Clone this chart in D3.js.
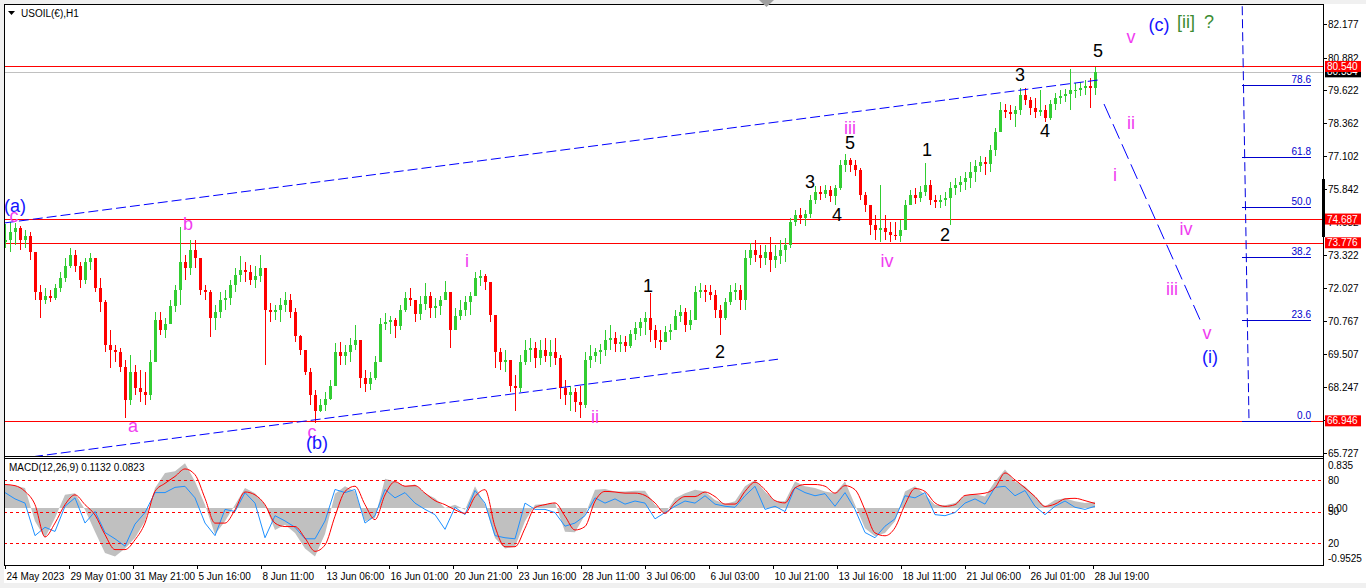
<!DOCTYPE html>
<html>
<head>
<meta charset="utf-8">
<script src="https://cdn.jsdelivr.net/npm/d3@7"></script>
<style>
  html, body { margin: 0; padding: 0; background: #f0f0f0; }
  svg { display: block; font-family: "Liberation Sans", Arial, sans-serif; }
</style>
</head>
<body>
<svg id="chart" width="1366" height="588"></svg>
<script>
// ---- price data (H1 candles, sampled every 5 hours) ----
const firstOpen = 73.80;
const highs = [
  74.49, 74.57, 74.53, 74.41, 74.26, 74.18, 73.42, 72.15, 72.03, 71.96,
  72.19, 72.65, 73.19, 73.57, 73.49, 73.03, 73.19, 73.38, 73.03, 72.42,
  71.57, 70.42, 69.84, 69.73, 69.27, 69.46, 69.07, 68.88, 68.80, 69.65,
  71.11, 71.11, 70.88, 71.57, 72.15, 74.38, 73.30, 73.88, 73.88, 73.11,
  72.15, 71.96, 71.38, 71.88, 71.96, 72.34, 72.80, 73.26, 73.03, 72.92,
  72.88, 73.30, 72.72, 71.46, 71.38, 71.65, 71.88, 71.80, 71.26, 70.23,
  69.65, 68.96, 68.11, 67.80, 68.04, 68.50, 69.92, 69.96, 69.84, 70.11,
  70.61, 70.03, 68.88, 68.80, 69.42, 70.88, 71.07, 70.96, 70.88, 71.38,
  71.88, 72.03, 71.57, 71.72, 72.22, 71.88, 71.65, 71.72, 72.30, 71.57,
  71.26, 71.57, 71.72, 71.88, 72.65, 72.72, 72.57, 72.15, 70.88, 69.73,
  69.65, 69.19, 68.69, 69.46, 70.03, 70.11, 69.96, 70.03, 70.11, 70.03,
  70.11, 69.46, 68.50, 68.30, 68.19, 68.30, 69.57, 69.84, 69.73, 69.88,
  70.42, 70.61, 70.34, 70.23, 70.19, 70.42, 70.73, 70.88, 71.11, 71.84,
  70.61, 70.42, 70.57, 70.65, 71.19, 71.38, 71.26, 71.19, 72.11, 72.22,
  72.15, 72.15, 71.96, 71.38, 71.65, 72.15, 72.22, 72.15, 73.49, 73.76,
  73.88, 73.68, 73.68, 73.99, 73.68, 73.88, 73.95, 74.72, 75.03, 75.11,
  75.03, 75.61, 75.95, 75.95, 75.99, 75.95, 75.99, 76.95, 77.18, 77.03,
  76.95, 76.64, 75.72, 75.22, 74.84, 75.99, 74.84, 74.57, 74.57, 74.65,
  75.41, 75.80, 75.88, 75.95, 76.84, 76.18, 75.61, 75.61, 75.72, 76.11,
  76.26, 76.34, 76.49, 76.87, 76.95, 77.11, 77.07, 77.53, 78.18, 79.18,
  79.10, 79.07, 79.03, 79.72, 79.72, 79.37, 79.33, 79.64, 79.07, 79.26,
  79.53, 79.64, 79.68, 80.45, 79.91, 79.95, 80.03, 80.10, 80.52
];
const lows = [
  73.57, 73.42, 73.69, 73.49, 73.57, 73.11, 71.57, 70.88, 71.42, 71.49,
  71.57, 71.88, 72.26, 72.80, 72.65, 72.03, 72.19, 72.72, 71.88, 71.11,
  69.57, 68.96, 69.19, 68.80, 67.04, 67.54, 67.92, 67.65, 67.54, 67.73,
  69.84, 70.23, 70.11, 70.73, 71.11, 71.38, 72.34, 72.53, 72.80, 71.76,
  71.57, 70.15, 70.42, 70.88, 71.19, 71.38, 71.88, 72.26, 72.26, 72.15,
  72.03, 72.26, 69.07, 70.73, 70.80, 70.73, 71.11, 70.88, 69.96, 69.46,
  68.69, 67.54, 66.88, 67.27, 67.34, 67.73, 68.57, 69.07, 69.07, 69.19,
  69.65, 68.19, 68.04, 68.11, 68.50, 69.19, 70.42, 70.26, 70.11, 70.42,
  71.11, 71.34, 70.73, 70.80, 71.19, 70.88, 70.88, 71.00, 71.57, 69.73,
  70.49, 70.80, 70.96, 71.00, 71.88, 72.11, 71.96, 70.73, 68.96, 68.88,
  68.80, 68.04, 67.34, 68.04, 69.07, 69.19, 68.96, 69.07, 69.19, 69.03,
  69.07, 67.80, 67.54, 67.34, 67.27, 67.04, 67.42, 68.96, 69.19, 69.11,
  69.42, 69.65, 69.57, 69.57, 69.57, 69.73, 70.03, 70.19, 70.23, 69.96,
  69.73, 69.65, 69.96, 70.03, 70.42, 70.73, 70.34, 70.42, 70.88, 71.65,
  71.49, 71.57, 70.88, 70.23, 70.80, 71.38, 71.57, 71.19, 71.19, 72.92,
  73.03, 72.80, 72.92, 72.65, 72.80, 72.95, 73.03, 73.57, 74.41, 74.49,
  74.41, 74.72, 75.26, 75.41, 75.49, 75.34, 75.22, 75.80, 76.49, 76.49,
  76.34, 75.41, 74.95, 74.07, 73.88, 73.80, 73.88, 73.80, 73.88, 73.80,
  74.26, 75.22, 75.26, 75.34, 75.57, 75.22, 75.11, 75.11, 75.18, 74.45,
  75.61, 75.72, 75.80, 75.88, 76.11, 76.49, 76.37, 76.49, 77.11, 78.10,
  78.57, 78.49, 78.22, 78.68, 79.07, 78.68, 78.57, 78.64, 78.41, 78.49,
  78.87, 79.10, 79.18, 78.87, 79.33, 79.41, 79.45, 78.95, 79.45
];
const closes = [
  73.88, 74.18, 74.34, 73.88, 74.03, 73.42, 71.88, 71.57, 71.72, 71.65,
  72.03, 72.42, 72.88, 73.30, 72.88, 72.34, 73.03, 73.19, 72.03, 71.49,
  69.84, 69.65, 69.57, 69.03, 67.73, 68.80, 68.19, 68.04, 67.92, 69.19,
  70.80, 70.42, 70.65, 71.34, 71.96, 73.03, 72.80, 73.49, 73.19, 71.96,
  71.88, 70.88, 71.11, 71.57, 71.65, 72.15, 72.53, 72.72, 72.65, 72.34,
  72.49, 72.80, 71.19, 71.11, 71.19, 71.38, 71.57, 71.11, 70.19, 69.65,
  68.80, 67.92, 67.34, 67.54, 67.80, 68.30, 69.57, 69.42, 69.57, 69.84,
  70.03, 68.57, 68.34, 68.57, 69.19, 70.65, 70.73, 70.80, 70.57, 71.19,
  71.65, 71.57, 71.03, 71.42, 71.72, 71.26, 71.34, 71.57, 71.88, 70.42,
  70.96, 71.19, 71.49, 71.72, 72.42, 72.49, 72.26, 71.00, 69.57, 69.19,
  69.27, 68.30, 68.19, 69.19, 69.65, 69.73, 69.34, 69.65, 69.42, 69.57,
  69.34, 68.19, 67.92, 68.04, 67.65, 67.54, 69.27, 69.42, 69.57, 69.65,
  70.03, 70.11, 69.88, 69.96, 69.80, 70.26, 70.49, 70.73, 70.88, 70.42,
  70.03, 69.96, 70.34, 70.42, 70.96, 71.11, 70.61, 70.80, 71.88, 71.96,
  71.88, 71.76, 71.19, 70.88, 71.49, 71.88, 71.96, 71.57, 73.19, 73.49,
  73.30, 73.19, 73.42, 73.11, 73.26, 73.49, 73.68, 74.57, 74.84, 74.72,
  74.88, 75.41, 75.72, 75.65, 75.80, 75.57, 75.88, 76.76, 76.95, 76.76,
  76.57, 75.61, 75.22, 74.45, 74.26, 74.34, 74.18, 74.07, 74.03, 74.26,
  75.22, 75.61, 75.49, 75.72, 75.99, 75.41, 75.34, 75.41, 75.49, 75.88,
  75.99, 76.11, 76.26, 76.49, 76.72, 76.87, 76.80, 77.34, 78.03, 78.87,
  78.80, 78.72, 78.87, 79.45, 79.26, 78.95, 78.80, 78.87, 78.57, 79.10,
  79.33, 79.41, 79.49, 79.64, 79.64, 79.72, 79.80, 79.72, 80.33
];
const candleStep = 5; // hours between stored candles

// ---- MACD window data (every 10 hours) ----
const macdMain = [
  0.41, 0.39, 0.35, -0.23, -0.52, -0.17, 0.23, 0.26, -0.03, -0.41,
  -0.78, -0.84, -0.70, -0.52, -0.23, 0.35, 0.61, 0.64, 0.78, 0.46,
  0.06, -0.46, -0.23, 0.06, 0.35, 0.26, 0.06, -0.38, -0.29, -0.43,
  -0.70, -0.84, -0.45, 0.25, 0.38, 0.29, -0.23, -0.17, 0.51, 0.46,
  0.38, 0.41, 0.26, 0.17, 0.00, 0.06, -0.03, 0.38, 0.06, -0.52,
  -0.70, -0.67, -0.23, 0.06, 0.07, 0.09, -0.41, -0.42, -0.12, 0.32,
  0.33, 0.29, 0.29, 0.30, 0.30, 0.06, -0.10, 0.17, 0.26, 0.32,
  0.29, 0.14, 0.07, 0.12, 0.38, 0.49, 0.29, 0.12, 0.12, 0.46,
  0.38, 0.35, 0.29, 0.26, 0.46, 0.06, -0.35, -0.49, -0.43, -0.23,
  0.29, 0.38, 0.23, 0.06, 0.05, 0.09, 0.22, 0.24, 0.20, 0.46,
  0.67, 0.46, 0.38, 0.20, 0.03, 0.14, 0.17, 0.12, 0.09, 0.11
];
const macdSignal = [
  0.41, 0.39, 0.29, 0.06, -0.50, -0.26, 0.06, 0.23, 0.06, -0.12,
  -0.46, -0.72, -0.72, -0.55, -0.26, 0.29, 0.43, 0.55, 0.68, 0.58,
  0.17, -0.26, -0.26, -0.03, 0.28, 0.23, 0.06, -0.26, -0.32, -0.32,
  -0.52, -0.75, -0.64, -0.14, 0.29, 0.38, 0.06, -0.20, 0.23, 0.46,
  0.38, 0.39, 0.26, 0.13, 0.06, -0.03, -0.09, 0.20, 0.32, -0.32,
  -0.67, -0.67, -0.35, 0.01, 0.06, 0.09, -0.14, -0.38, -0.32, 0.12,
  0.29, 0.28, 0.26, 0.26, 0.22, 0.09, -0.09, 0.09, 0.20, 0.20,
  0.28, 0.20, 0.07, 0.07, 0.29, 0.45, 0.32, 0.13, 0.09, 0.35,
  0.41, 0.41, 0.38, 0.26, 0.39, 0.32, -0.03, -0.43, -0.48, -0.34,
  0.06, 0.34, 0.29, 0.09, 0.03, 0.06, 0.22, 0.24, 0.26, 0.35,
  0.61, 0.49, 0.35, 0.20, 0.03, 0.07, 0.16, 0.17, 0.13, 0.08
];
const oscLine = [
  68, 62, 58, 27, 35, 31, 55, 63, 39, 50,
  30, 24, 17, 38, 49, 68, 68, 73, 74, 63,
  39, 27, 52, 50, 68, 58, 25, 46, 41, 35,
  24, 24, 41, 71, 68, 71, 39, 46, 71, 63,
  68, 58, 52, 47, 33, 54, 47, 70, 58, 27,
  25, 24, 58, 52, 52, 49, 36, 39, 46, 63,
  58, 62, 57, 60, 58, 43, 49, 55, 60, 58,
  65, 57, 55, 54, 65, 74, 52, 55, 50, 73,
  68, 65, 67, 55, 68, 52, 30, 25, 36, 43,
  65, 63, 68, 47, 46, 49, 58, 62, 57, 73,
  74, 65, 70, 55, 47, 55, 60, 54, 52, 55
];
const macdStep = 10;
const oscLevels = [80, 50, 20];

// ---- axes ----
const priceTicks = [82.177, 80.882, 79.622, 78.362, 77.102, 75.842, 74.582,
  73.322, 72.027, 70.767, 69.507, 68.247, 66.987, 65.727];
const timeLabels = ["24 May 2023", "29 May 01:00", "31 May 21:00", "5 Jun 16:00",
  "8 Jun 11:00", "13 Jun 06:00", "16 Jun 01:00", "20 Jun 21:00", "23 Jun 16:00",
  "28 Jun 11:00", "3 Jul 06:00", "6 Jul 03:00", "10 Jul 21:00", "13 Jul 16:00",
  "18 Jul 11:00", "21 Jul 06:00", "26 Jul 01:00", "28 Jul 19:00"];
const timeLabelHours = [0, 64, 128, 192, 256, 320, 384, 448, 512, 576, 640,
  704, 768, 832, 896, 960, 1024, 1088];

// ---- horizontal levels, fib, trend lines ----
const redLevels = [80.540, 74.687, 73.776, 66.946];
const lastPrice = 80.334;
const fibRatios = [0.0, 23.6, 38.2, 50.0, 61.8, 78.6];
const fibLow = [1244, 66.946];
const fibHigh = [1237, 83.35];
const fibEndHour = 1306;
const upperChannel = [[0, 74.54], [1093, 80.02]];
const lowerChannel = [[28, 65.57], [773, 69.31]];
const projection = [[1099, 79.10], [1196, 70.74]];

// ---- wave labels [text, hour, price, colour] ----
const MAG = "#f03cf0", BLU = "#1414ff", BLK = "#000000", GRN = "#3c8c32";
const waveLabels = [
  ["(a)", 10, 75.19, BLU], ["c", 9, 74.81, MAG], ["b", 183, 74.50, MAG],
  ["a", 128, 66.76, MAG], ["c", 307, 66.53, MAG], ["(b)", 312, 66.11, BLU],
  ["i", 462, 73.08, MAG], ["ii", 590, 67.10, MAG], ["1", 643, 72.12, BLK],
  ["2", 715, 69.59, BLK], ["3", 805, 76.11, BLK], ["4", 832, 74.85, BLK],
  ["iii", 845, 78.18, MAG], ["5", 845, 77.61, BLK], ["iv", 882, 73.08, MAG],
  ["1", 922, 77.34, BLK], ["2", 940, 74.08, BLK], ["3", 1015, 80.21, BLK],
  ["4", 1040, 78.07, BLK], ["5", 1093, 81.13, BLK], ["v", 1126, 81.67, MAG],
  ["(c)", 1154, 82.13, BLU], ["[ii]", 1181, 82.25, GRN], ["?", 1204, 82.25, GRN],
  ["ii", 1126, 78.37, MAG], ["i", 1110, 76.38, MAG], ["iv", 1181, 74.31, MAG],
  ["iii", 1167, 72.01, MAG], ["v", 1202, 70.32, MAG], ["(i)", 1205, 69.40, BLU]
];

// ---- layout ----
const W = 1366, H = 588;
const left = 4, right = 1323, mainTop = 4, mainBottom = 456, macdTop = 459, macdBottom = 565;

const x = d3.scaleLinear().domain([0, 1090]).range([5, 1095]);
const y = d3.scaleLinear().domain([65.727, 82.177]).range([452.6, 23.8]);
const yMacd = d3.scaleLinear().domain([-0.9525, 0.835]).range([563, 460]);
const yOsc = d3.scaleLinear().domain([0, 100]).range([564, 459]);

const svg = d3.select("#chart");
svg.append("rect").attr("width", W).attr("height", H).attr("fill", "#f0f0f0");
svg.append("rect").attr("x", left).attr("y", mainTop).attr("width", W - left).attr("height", 579).attr("fill", "#fff");

const defs = svg.append("defs");
defs.append("clipPath").attr("id", "clipMain").append("rect")
  .attr("x", left + 1).attr("y", mainTop + 1).attr("width", right - left - 1).attr("height", mainBottom - mainTop - 1);
defs.append("clipPath").attr("id", "clipMacd").append("rect")
  .attr("x", left + 1).attr("y", macdTop).attr("width", right - left - 1).attr("height", macdBottom - macdTop);

const main = svg.append("g").attr("clip-path", "url(#clipMain)");

// horizontal price levels
const levels = main.append("g").attr("shape-rendering", "crispEdges");
levels.append("line").attr("x1", left).attr("x2", right)
  .attr("y1", Math.round(y(lastPrice)) + 0.5).attr("y2", Math.round(y(lastPrice)) + 0.5)
  .attr("stroke", "#c0c0c0");
redLevels.forEach(p => {
  levels.append("line").attr("x1", left).attr("x2", right)
    .attr("y1", Math.round(y(p)) + 0.5).attr("y2", Math.round(y(p)) + 0.5)
    .attr("stroke", "#ff0000");
});

// candles
const candles = main.append("g").attr("shape-rendering", "crispEdges");
closes.forEach((c, i) => {
  const o = i === 0 ? firstOpen : closes[i - 1];
  const col = c >= o ? "#32cd32" : "#ff0000";
  const cx = Math.round(x(i * candleStep));
  candles.append("rect").attr("x", cx).attr("width", 1)
    .attr("y", y(highs[i])).attr("height", Math.max(1, y(lows[i]) - y(highs[i])))
    .attr("fill", col);
  const top = y(Math.max(o, c)), bot = y(Math.min(o, c));
  candles.append("rect").attr("x", cx - 1).attr("width", 3)
    .attr("y", top).attr("height", Math.max(1, bot - top))
    .attr("fill", col);
});

// trend lines
const line = d3.line().x(d => x(d[0])).y(d => y(d[1]));
[upperChannel, lowerChannel].forEach(pts => {
  main.append("path").attr("d", line(pts)).attr("fill", "none")
    .attr("stroke", "#0000ff").attr("stroke-width", 1).attr("stroke-dasharray", "10,4");
});
main.append("path").attr("d", line(projection)).attr("fill", "none")
  .attr("stroke", "#0000ff").attr("stroke-width", 1).attr("stroke-dasharray", "16,6");

// fibonacci
main.append("path").attr("d", line([fibHigh, fibLow])).attr("fill", "none")
  .attr("stroke", "#0000e0").attr("stroke-dasharray", "9,4");
fibRatios.forEach(r => {
  const p = fibLow[1] + (fibHigh[1] - fibLow[1]) * r / 100;
  const yy = Math.round(y(p)) + 0.5;
  main.append("line").attr("x1", x(fibHigh[0])).attr("x2", x(fibEndHour))
    .attr("y1", yy).attr("y2", yy).attr("stroke", "#0000cd");
  main.append("text").attr("x", x(fibEndHour)).attr("y", yy - 3)
    .attr("text-anchor", "end").attr("font-size", 10).attr("fill", "#0000cd")
    .text(r.toFixed(1));
});

// wave labels
waveLabels.forEach(([t, h, p, c]) => {
  main.append("text").attr("x", x(h)).attr("y", y(p))
    .attr("text-anchor", "middle").attr("dominant-baseline", "central")
    .attr("font-size", 18).attr("fill", c).text(t);
});

// title
svg.append("path").attr("d", "M8,11 L15,11 L11.5,15 Z").attr("fill", "#000");
svg.append("text").attr("x", 21).attr("y", 17).attr("font-size", 10).text("USOIL(€),H1");

// ---- MACD window ----
const macd = svg.append("g").attr("clip-path", "url(#clipMacd)");
const area = d3.area().x((d, i) => x(i * macdStep)).y0(yMacd(0)).y1(d => yMacd(d));
macd.append("path").attr("d", area(macdMain)).attr("fill", "#c0c0c0");
oscLevels.forEach(v => {
  macd.append("line").attr("x1", left).attr("x2", right)
    .attr("y1", Math.round(yOsc(v)) + 0.5).attr("y2", Math.round(yOsc(v)) + 0.5)
    .attr("stroke", "#ff0000").attr("stroke-dasharray", "3,3");
});
macd.append("path").attr("d", d3.line().x((d, i) => x(i * macdStep)).y(d => yOsc(d))(oscLine))
  .attr("fill", "none").attr("stroke", "#1e90ff").attr("stroke-width", 1);
macd.append("path").attr("d", d3.line().x((d, i) => x(i * macdStep)).y(d => yMacd(d)).curve(d3.curveMonotoneX)(macdSignal))
  .attr("fill", "none").attr("stroke", "#ff0000").attr("stroke-width", 1);
svg.append("text").attr("x", 9).attr("y", 471).attr("font-size", 10)
  .text("MACD(12,26,9) 0.1132 0.0823");

// ---- frames ----
const frame = svg.append("g").attr("stroke", "#000").attr("shape-rendering", "crispEdges");
frame.append("line").attr("x1", left + 0.5).attr("x2", left + 0.5).attr("y1", mainTop).attr("y2", macdBottom + 1);
frame.append("line").attr("x1", right + 0.5).attr("x2", right + 0.5).attr("y1", mainTop).attr("y2", macdBottom + 1);
[mainTop, mainBottom, macdTop - 1, macdBottom].forEach(v => {
  frame.append("line").attr("x1", left).attr("x2", right + 1).attr("y1", v + 0.5).attr("y2", v + 0.5);
});

// ---- price axis ----
const axis = svg.append("g").attr("font-size", 10);
priceTicks.forEach(p => {
  const yy = Math.round(y(p)) + 0.5;
  axis.append("line").attr("x1", right).attr("x2", right + 4).attr("y1", yy).attr("y2", yy).attr("stroke", "#000");
  axis.append("text").attr("x", right + 5).attr("y", yy + 3.5).text(p.toFixed(3));
});
function priceBox(p, fill) {
  const yy = y(p);
  axis.append("rect").attr("x", right + 2).attr("y", yy - 5.5).attr("width", 36).attr("height", 11).attr("fill", fill);
  axis.append("text").attr("x", right + 4).attr("y", yy + 3.5).attr("fill", "#fff").text(p.toFixed(3));
}
priceBox(lastPrice, "#000");
redLevels.forEach(p => priceBox(p, "#ff0000"));
// scroll marker on the scale
axis.append("rect").attr("x", right - 1).attr("y", 179).attr("width", 3).attr("height", 58).attr("fill", "#000");

// MACD scale
axis.append("text").attr("x", right + 5).attr("y", 469).text("0.835");
oscLevels.forEach(v => {
  axis.append("text").attr("x", right + 5).attr("y", yOsc(v) + 3.5).text(v);
});
axis.append("text").attr("x", right + 5).attr("y", yMacd(0) + 3.5).text("0.00");
axis.append("text").attr("x", right + 5).attr("y", 562).text("-0.9525");

// ---- time axis ----
const tAxis = svg.append("g").attr("font-size", 10);
timeLabels.forEach((t, i) => {
  const xx = Math.round(x(timeLabelHours[i])) + 0.5;
  tAxis.append("line").attr("x1", xx).attr("x2", xx).attr("y1", macdBottom).attr("y2", macdBottom + 4).attr("stroke", "#000");
  tAxis.append("text").attr("x", xx + 1).attr("y", 580).text(t);
});

// chart shift marker
svg.append("path").attr("d", "M759,0 L774,0 L766.5,7 Z").attr("fill", "#a0a0a0");
</script>
</body>
</html>
